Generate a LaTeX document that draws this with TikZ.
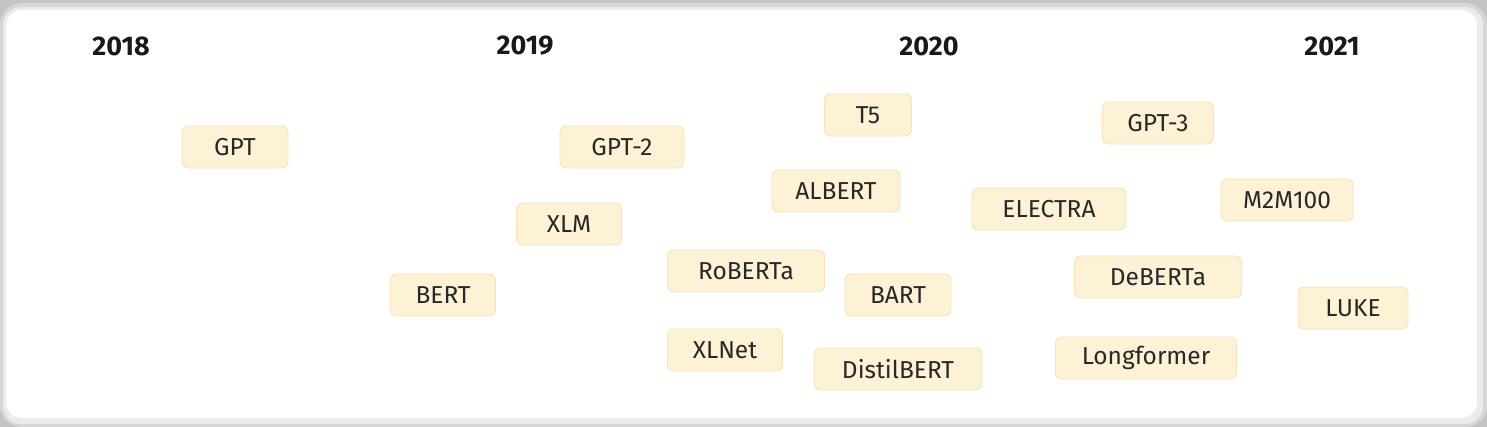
\documentclass[tikz,border=0pt]{standalone}
\usepackage{fontspec}
\setmainfont{Fira Sans}
\definecolor{boxfill}{RGB}{254,242,214}
\definecolor{boxline}{RGB}{246,226,182}
\definecolor{txt}{RGB}{40,40,40}
\definecolor{bg}{RGB}{196,196,196}
\tikzset{
  model/.style={draw=boxline, fill=boxfill, rounded corners=6pt, line width=0.8pt,
    minimum height=42pt, inner sep=0pt, text=txt, font=\fontsize{24.5}{26}\selectfont},
  yearlabel/.style={font=\fontsize{27}{29}\selectfont\bfseries, text=black!90, inner sep=0pt}
}
\begin{document}
\begin{tikzpicture}[x=1pt,y=-1pt]
\useasboundingbox (0,0) rectangle (1487,427);
\fill[bg] (0,0) rectangle (1487,427);
\fill[black!16, rounded corners=22pt] (0,3) rectangle (1487,427);
\fill[black!8, rounded corners=18pt] (3,7) rectangle (1483,424);
\fill[white, rounded corners=16pt] (6,10) rectangle (1477,418);
% years
\node[yearlabel] (y18) at (121,46) {2018};
\node[yearlabel] (y19) at (525,46) {2019};
\node[yearlabel] (y20) at (929,46) {2020};
\node[yearlabel] (y21) at (1332,46) {2021};
% models
\node[model, minimum width=106pt] (gpt) at (235,147) {GPT};
\node[model, minimum width=124pt] (gpt2) at (622,147) {GPT-2};
\node[model, minimum width=105pt] (xlm) at (569,224) {XLM};
\node[model, minimum width=105pt] (bert) at (443,295) {BERT};
\node[model, minimum width=87pt] (t5) at (868,115) {T5};
\node[model, minimum width=128pt] (albert) at (836,191) {ALBERT};
\node[model, minimum width=157pt] (roberta) at (746,271) {RoBERTa};
\node[model, minimum width=106pt] (bart) at (898,295) {BART};
\node[model, minimum width=115pt] (xlnet) at (725,350) {XLNet};
\node[model, minimum width=168pt] (distil) at (898,369) {DistilBERT};
\node[model, minimum width=111pt] (gpt3) at (1158,123) {GPT-3};
\node[model, minimum width=154pt] (electra) at (1049,209) {ELECTRA};
\node[model, minimum width=132pt] (m2m) at (1287,200) {M2M100};
\node[model, minimum width=167pt] (deberta) at (1158,277) {DeBERTa};
\node[model, minimum width=110pt] (luke) at (1353,308) {LUKE};
\node[model, minimum width=181pt] (longformer) at (1146,358) {Longformer};
\end{tikzpicture}
\end{document}
